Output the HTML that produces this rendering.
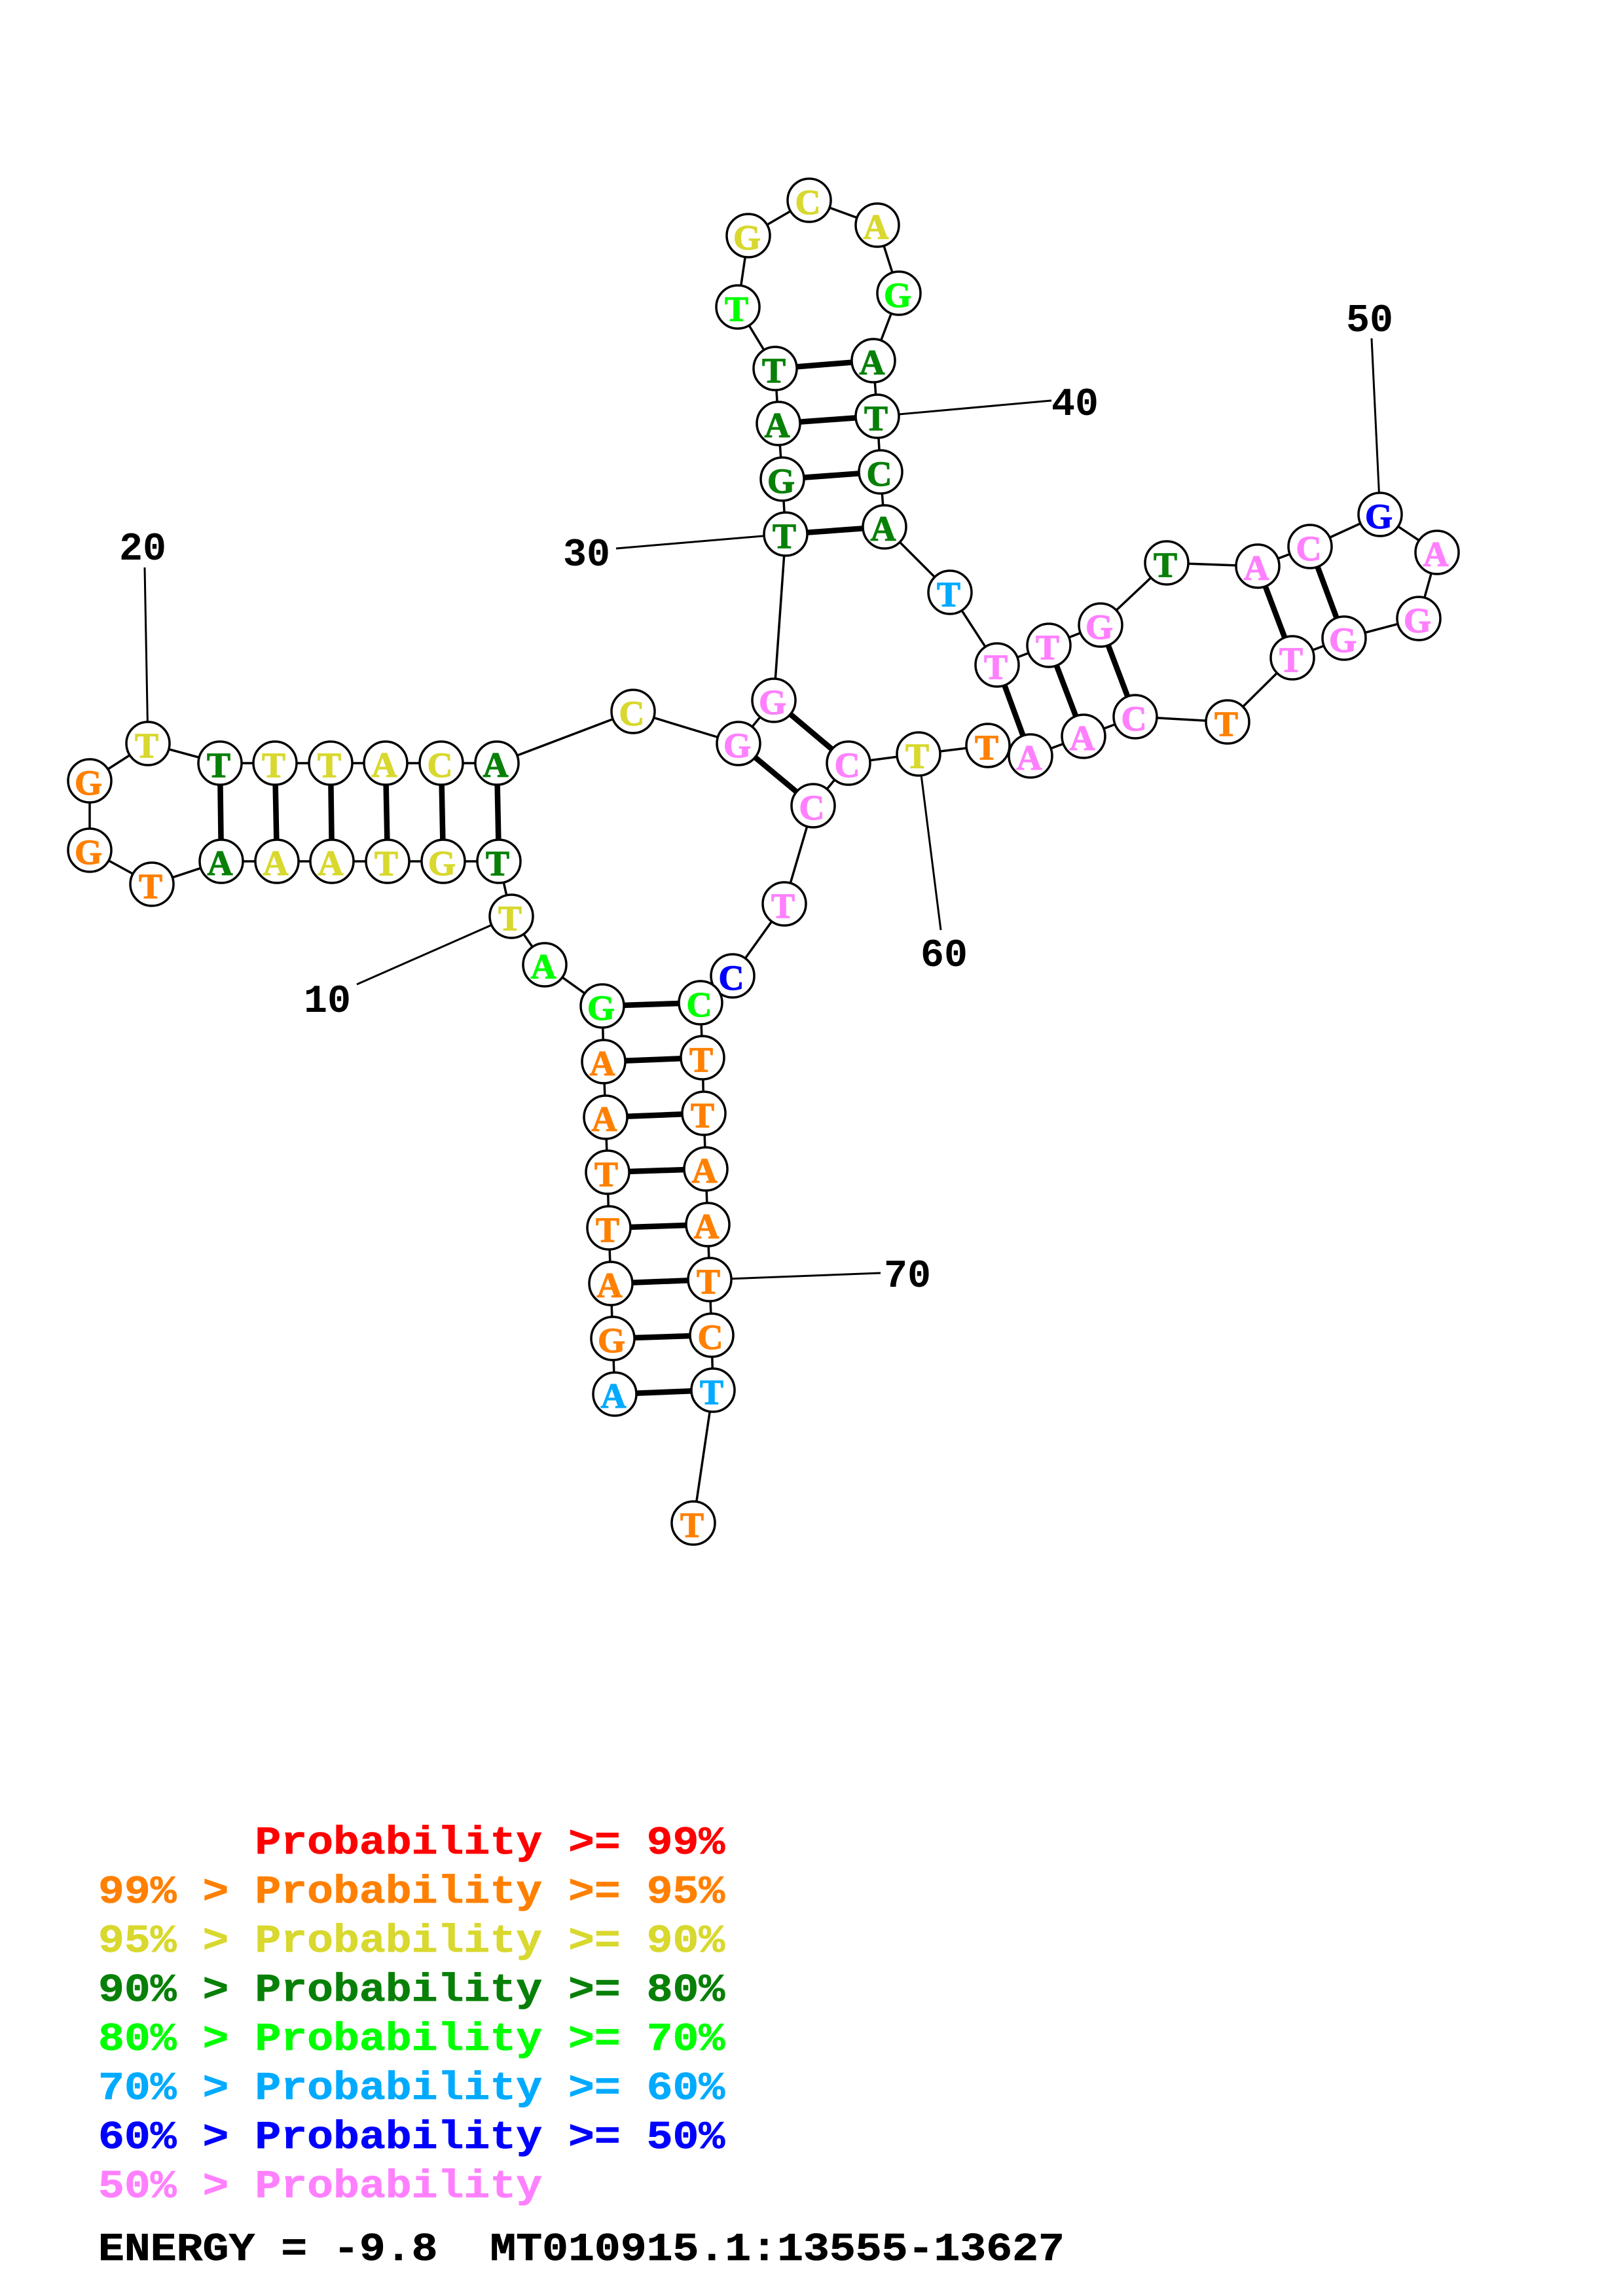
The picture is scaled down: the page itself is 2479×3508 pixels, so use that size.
<!DOCTYPE html>
<html><head><meta charset="utf-8"><style>
html,body{margin:0;padding:0;background:#fff}
svg{display:block}
text{font-family:"Liberation Mono",monospace;font-weight:bold;white-space:pre}
.n text{font-family:"Liberation Serif",serif;font-size:54px;text-anchor:middle;stroke-width:1.2}
.n circle{fill:#fff;stroke:#000;stroke-width:3.5}
.l text{font-size:60px;fill:#000;text-anchor:middle}
.g text{font-size:60px;stroke-width:.7}
.o{fill:#ff8000;stroke:#ff8000}.y{fill:#d8d82e;stroke:#d8d82e}.d{fill:#088008;stroke:#088008}.e{fill:#00ff00;stroke:#00ff00}.s{fill:#00aaff;stroke:#00aaff}.b{fill:#0000ff;stroke:#0000ff}.p{fill:#ff80ff;stroke:#ff80ff}.r{fill:#ff0000;stroke:#ff0000}.k{fill:#000;stroke:#000}
</style></head><body>
<svg xmlns="http://www.w3.org/2000/svg" width="2479" height="3508" viewBox="0 0 2479 3508">
<rect width="2479" height="3508" fill="#fff"/>
<polyline fill="none" stroke="#000" stroke-width="3.5" points="939,2130 936,2045 933,1961 930,1876 928,1791 925,1707 922,1622 920,1537 832,1474 781,1400 762,1316 677,1316 592,1316 507,1316 423,1316 338,1316 232,1351 137,1299 137,1193 226,1136 336,1166 420,1166 505,1166 589,1166 674,1166 759,1166 967,1087 1128,1136 1182,1070 1200,816 1195,732 1189,647 1184,563 1127,469 1143,360 1236,306 1340,344 1373,448 1334,551 1340,636 1345,721 1351,805 1451,905 1523,1016 1602,986 1681,955 1782,860 1921,865 2001,835 2108,786 2195,844 2167,945 2053,975 1974,1005 1875,1103 1734,1095 1655,1125 1574,1155 1509,1139 1403,1152 1296,1166 1242,1231 1198,1381 1119,1491 1070,1532 1073,1616 1075,1701 1078,1786 1081,1871 1084,1955 1087,2040 1089,2124 1059,2327"/>
<g stroke="#000" stroke-width="3" fill="none">
<line x1="781" y1="1400" x2="545" y2="1504"/>
<line x1="226" y1="1136" x2="221" y2="867"/>
<line x1="1200" y1="816" x2="941" y2="838"/>
<line x1="1340" y1="636" x2="1606" y2="612"/>
<line x1="2108" y1="786" x2="2095" y2="517"/>
<line x1="1403" y1="1152" x2="1437" y2="1421"/>
<line x1="1084" y1="1955" x2="1345" y2="1945"/>
</g>
<g stroke="#000" stroke-width="8.5" fill="none">
<line x1="336" y1="1166" x2="338" y2="1316"/><line x1="420" y1="1166" x2="423" y2="1316"/><line x1="505" y1="1166" x2="507" y2="1316"/><line x1="589" y1="1166" x2="592" y2="1316"/><line x1="674" y1="1166" x2="677" y2="1316"/><line x1="759" y1="1166" x2="762" y2="1316"/>
<line x1="1184" y1="563" x2="1334" y2="551"/><line x1="1189" y1="647" x2="1340" y2="636"/><line x1="1195" y1="732" x2="1345" y2="721"/><line x1="1200" y1="816" x2="1351" y2="805"/>
<line x1="1182" y1="1070" x2="1296" y2="1166"/><line x1="1128" y1="1136" x2="1242" y2="1231"/>
<line x1="1523" y1="1016" x2="1574" y2="1155"/><line x1="1602" y1="986" x2="1655" y2="1125"/><line x1="1681" y1="955" x2="1734" y2="1095"/>
<line x1="1921" y1="865" x2="1974" y2="1005"/><line x1="2001" y1="835" x2="2053" y2="975"/>
<line x1="920" y1="1537" x2="1070" y2="1532"/><line x1="922" y1="1622" x2="1073" y2="1616"/><line x1="925" y1="1707" x2="1075" y2="1701"/><line x1="928" y1="1791" x2="1078" y2="1786"/><line x1="930" y1="1876" x2="1081" y2="1871"/><line x1="933" y1="1961" x2="1084" y2="1955"/><line x1="936" y1="2045" x2="1087" y2="2040"/><line x1="939" y1="2130" x2="1089" y2="2124"/>
</g>
<g class="n">
<circle cx="939" cy="2130" r="33"/><text class="s" x="937" y="2151">A</text>
<circle cx="936" cy="2045" r="33"/><text class="o" x="934" y="2066">G</text>
<circle cx="933" cy="1961" r="33"/><text class="o" x="931" y="1982">A</text>
<circle cx="930" cy="1876" r="33"/><text class="o" x="928" y="1897">T</text>
<circle cx="928" cy="1791" r="33"/><text class="o" x="926" y="1812">T</text>
<circle cx="925" cy="1707" r="33"/><text class="o" x="923" y="1728">A</text>
<circle cx="922" cy="1622" r="33"/><text class="o" x="920" y="1643">A</text>
<circle cx="920" cy="1537" r="33"/><text class="e" x="918" y="1558">G</text>
<circle cx="832" cy="1474" r="33"/><text class="e" x="830" y="1495">A</text>
<circle cx="781" cy="1400" r="33"/><text class="y" x="779" y="1421">T</text>
<circle cx="762" cy="1316" r="33"/><text class="d" x="760" y="1337">T</text>
<circle cx="677" cy="1316" r="33"/><text class="y" x="675" y="1337">G</text>
<circle cx="592" cy="1316" r="33"/><text class="y" x="590" y="1337">T</text>
<circle cx="507" cy="1316" r="33"/><text class="y" x="505" y="1337">A</text>
<circle cx="423" cy="1316" r="33"/><text class="y" x="421" y="1337">A</text>
<circle cx="338" cy="1316" r="33"/><text class="d" x="336" y="1337">A</text>
<circle cx="232" cy="1351" r="33"/><text class="o" x="230" y="1372">T</text>
<circle cx="137" cy="1299" r="33"/><text class="o" x="135" y="1320">G</text>
<circle cx="137" cy="1193" r="33"/><text class="o" x="135" y="1214">G</text>
<circle cx="226" cy="1136" r="33"/><text class="y" x="224" y="1157">T</text>
<circle cx="336" cy="1166" r="33"/><text class="d" x="334" y="1187">T</text>
<circle cx="420" cy="1166" r="33"/><text class="y" x="418" y="1187">T</text>
<circle cx="505" cy="1166" r="33"/><text class="y" x="503" y="1187">T</text>
<circle cx="589" cy="1166" r="33"/><text class="y" x="587" y="1187">A</text>
<circle cx="674" cy="1166" r="33"/><text class="y" x="672" y="1187">C</text>
<circle cx="759" cy="1166" r="33"/><text class="d" x="757" y="1187">A</text>
<circle cx="967" cy="1087" r="33"/><text class="y" x="965" y="1108">C</text>
<circle cx="1128" cy="1136" r="33"/><text class="p" x="1126" y="1157">G</text>
<circle cx="1182" cy="1070" r="33"/><text class="p" x="1180" y="1091">G</text>
<circle cx="1200" cy="816" r="33"/><text class="d" x="1198" y="837">T</text>
<circle cx="1195" cy="732" r="33"/><text class="d" x="1193" y="753">G</text>
<circle cx="1189" cy="647" r="33"/><text class="d" x="1187" y="668">A</text>
<circle cx="1184" cy="563" r="33"/><text class="d" x="1182" y="584">T</text>
<circle cx="1127" cy="469" r="33"/><text class="e" x="1125" y="490">T</text>
<circle cx="1143" cy="360" r="33"/><text class="y" x="1141" y="381">G</text>
<circle cx="1236" cy="306" r="33"/><text class="y" x="1234" y="327">C</text>
<circle cx="1340" cy="344" r="33"/><text class="y" x="1338" y="365">A</text>
<circle cx="1373" cy="448" r="33"/><text class="e" x="1371" y="469">G</text>
<circle cx="1334" cy="551" r="33"/><text class="d" x="1332" y="572">A</text>
<circle cx="1340" cy="636" r="33"/><text class="d" x="1338" y="657">T</text>
<circle cx="1345" cy="721" r="33"/><text class="d" x="1343" y="742">C</text>
<circle cx="1351" cy="805" r="33"/><text class="d" x="1349" y="826">A</text>
<circle cx="1451" cy="905" r="33"/><text class="s" x="1449" y="926">T</text>
<circle cx="1523" cy="1016" r="33"/><text class="p" x="1521" y="1037">T</text>
<circle cx="1602" cy="986" r="33"/><text class="p" x="1600" y="1007">T</text>
<circle cx="1681" cy="955" r="33"/><text class="p" x="1679" y="976">G</text>
<circle cx="1782" cy="860" r="33"/><text class="d" x="1780" y="881">T</text>
<circle cx="1921" cy="865" r="33"/><text class="p" x="1919" y="886">A</text>
<circle cx="2001" cy="835" r="33"/><text class="p" x="1999" y="856">C</text>
<circle cx="2108" cy="786" r="33"/><text class="b" x="2106" y="807">G</text>
<circle cx="2195" cy="844" r="33"/><text class="p" x="2193" y="865">A</text>
<circle cx="2167" cy="945" r="33"/><text class="p" x="2165" y="966">G</text>
<circle cx="2053" cy="975" r="33"/><text class="p" x="2051" y="996">G</text>
<circle cx="1974" cy="1005" r="33"/><text class="p" x="1972" y="1026">T</text>
<circle cx="1875" cy="1103" r="33"/><text class="o" x="1873" y="1124">T</text>
<circle cx="1734" cy="1095" r="33"/><text class="p" x="1732" y="1116">C</text>
<circle cx="1655" cy="1125" r="33"/><text class="p" x="1653" y="1146">A</text>
<circle cx="1574" cy="1155" r="33"/><text class="p" x="1572" y="1176">A</text>
<circle cx="1509" cy="1139" r="33"/><text class="o" x="1507" y="1160">T</text>
<circle cx="1403" cy="1152" r="33"/><text class="y" x="1401" y="1173">T</text>
<circle cx="1296" cy="1166" r="33"/><text class="p" x="1294" y="1187">C</text>
<circle cx="1242" cy="1231" r="33"/><text class="p" x="1240" y="1252">C</text>
<circle cx="1198" cy="1381" r="33"/><text class="p" x="1196" y="1402">T</text>
<circle cx="1119" cy="1491" r="33"/><text class="b" x="1117" y="1512">C</text>
<circle cx="1070" cy="1532" r="33"/><text class="e" x="1068" y="1553">C</text>
<circle cx="1073" cy="1616" r="33"/><text class="o" x="1071" y="1637">T</text>
<circle cx="1075" cy="1701" r="33"/><text class="o" x="1073" y="1722">T</text>
<circle cx="1078" cy="1786" r="33"/><text class="o" x="1076" y="1807">A</text>
<circle cx="1081" cy="1871" r="33"/><text class="o" x="1079" y="1892">A</text>
<circle cx="1084" cy="1955" r="33"/><text class="o" x="1082" y="1976">T</text>
<circle cx="1087" cy="2040" r="33"/><text class="o" x="1085" y="2061">C</text>
<circle cx="1089" cy="2124" r="33"/><text class="s" x="1087" y="2145">T</text>
<circle cx="1059" cy="2327" r="33"/><text class="o" x="1057" y="2348">T</text>
</g>
<g class="l">
<text x="500" y="1546">10</text>
<text x="218" y="855">20</text>
<text x="896" y="864">30</text>
<text x="1642" y="634">40</text>
<text x="2092" y="506">50</text>
<text x="1442" y="1476">60</text>
<text x="1386" y="1966">70</text>
</g>
<g class="g">
<text class="r" transform="translate(150 2832) scale(1.108 1)">      Probability &gt;= 99%</text>
<text class="o" transform="translate(150 2907) scale(1.108 1)">99% &gt; Probability &gt;= 95%</text>
<text class="y" transform="translate(150 2982) scale(1.108 1)">95% &gt; Probability &gt;= 90%</text>
<text class="d" transform="translate(150 3057) scale(1.108 1)">90% &gt; Probability &gt;= 80%</text>
<text class="e" transform="translate(150 3132) scale(1.108 1)">80% &gt; Probability &gt;= 70%</text>
<text class="s" transform="translate(150 3207) scale(1.108 1)">70% &gt; Probability &gt;= 60%</text>
<text class="b" transform="translate(150 3282) scale(1.108 1)">60% &gt; Probability &gt;= 50%</text>
<text class="p" transform="translate(150 3357) scale(1.108 1)">50% &gt; Probability</text>
<text class="k" transform="translate(150 3453) scale(1.108 1)">ENERGY = -9.8  MT010915.1:13555-13627</text>
</g>
</svg>
</body></html>
